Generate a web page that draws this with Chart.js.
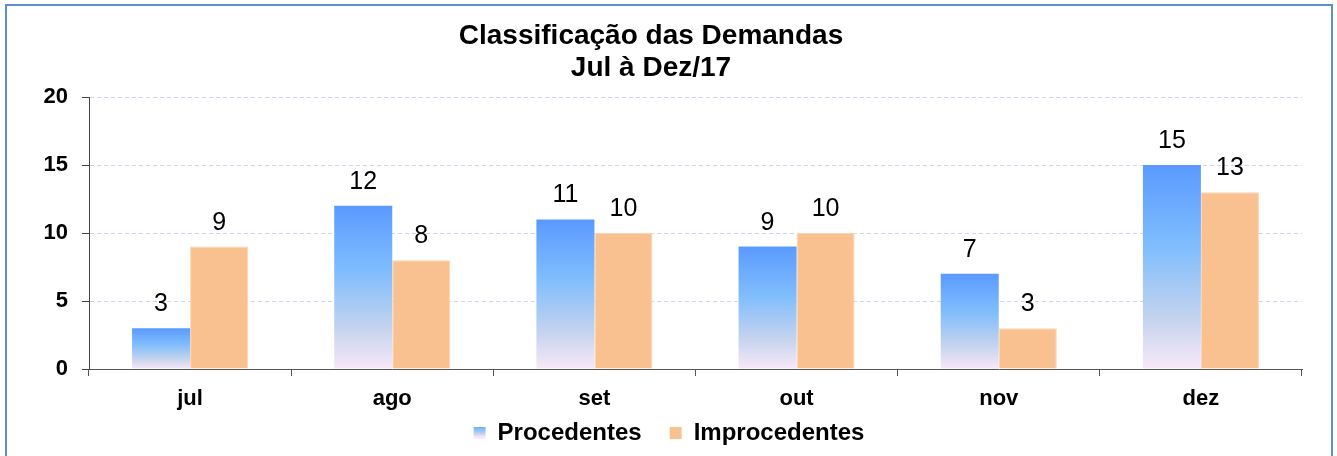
<!DOCTYPE html>
<html>
<head>
<meta charset="utf-8">
<script src="https://cdn.jsdelivr.net/npm/chart.js@4.4.1/dist/chart.umd.min.js"></script>
<style>
  body { margin: 0; background: #fff; }
  #wrap { position: relative; width: 1337px; height: 456px; }
  #frame { position: absolute; left: 5px; top: 4px; width: 1328px; height: 470px; border: 2px solid #5b8fd0; box-sizing: border-box; pointer-events: none; }
</style>
</head>
<body>
<div id="wrap">
  <canvas id="myChart" width="1337" height="456"></canvas>
  <div id="frame"></div>
</div>
<script>
const meses = ['jul', 'ago', 'set', 'out', 'nov', 'dez'];
const procedentes = [3, 12, 11, 9, 7, 15];
const improcedentes = [9, 8, 10, 10, 3, 13];
const yTicks = [0, 5, 10, 15, 20];

const FONT = "'Liberation Sans', Arial, sans-serif";

// blue gradient, from the top of each bar down to the axis
function blueFill(ctx, top, bottom) {
    const g = ctx.createLinearGradient(0, top, 0, bottom);
    g.addColorStop(0, '#5a9aff');
    g.addColorStop(0.4, '#80bdfd');
    g.addColorStop(0.75, '#c4d3ee');
    g.addColorStop(1, '#f8e8f8');
    return g;
}

function barGradient(context) {
    const chart = context.chart;
    const y = chart.scales.y;
    if (!y || context.raw === undefined) return '#6aa8ff';
    return blueFill(chart.ctx, y.getPixelForValue(context.raw), y.getPixelForValue(0));
}

// values written above each bar
const valueLabels = {
    id: 'valueLabels',
    afterDatasetsDraw(chart) {
        const ctx = chart.ctx;
        ctx.save();
        ctx.font = '25px ' + FONT;
        ctx.fillStyle = '#000';
        ctx.textAlign = 'center';
        ctx.textBaseline = 'alphabetic';
        chart.data.datasets.forEach(function (ds, i) {
            chart.getDatasetMeta(i).data.forEach(function (bar, j) {
                ctx.fillText(String(ds.data[j]), bar.x, bar.y - 17);
            });
        });
        ctx.restore();
    }
};

// pull the legend up closer to the month labels, centred on the canvas
const legendShift = {
    id: 'legendShift',
    afterLayout(chart) {
        const lg = chart.legend;
        lg.top -= 21;
        lg.bottom -= 21;
        lg.left += 18;
        lg.right += 18;
    }
};

const ctx = document.getElementById('myChart');

new Chart(ctx, {
    type: 'bar',
    data: {
        labels: meses,
        datasets: [{
            label: 'Procedentes',
            data: procedentes,
            backgroundColor: barGradient,
            borderWidth: 0
        }, {
            label: 'Improcedentes',
            data: improcedentes,
            backgroundColor: '#f9c090',
            borderColor: '#fcd3b0',
            borderWidth: 1
        }]
    },
    plugins: [valueLabels, legendShift],
    options: {
        responsive: false,
        animation: false,
        categoryPercentage: 0.574,
        barPercentage: 1,
        layout: { padding: { top: 0, right: 35, bottom: -20, left: 0 } },
        plugins: {
            title: {
                display: true,
                text: ['Classificação das Demandas', 'Jul à Dez/17'],
                color: '#000',
                font: { family: FONT, size: 28, weight: 'bold', lineHeight: 1.143 },
                padding: { top: 20, bottom: 13 }
            },
            legend: {
                position: 'bottom',
                labels: {
                    color: '#000',
                    font: { family: FONT, size: 24, weight: 'bold' },
                    boxWidth: 12,
                    boxHeight: 12,
                    padding: 28,
                    generateLabels: function (chart) {
                        return [{
                            text: 'Procedentes',
                            fillStyle: blueFill(chart.ctx, 424, 437),
                            strokeStyle: 'rgba(0,0,0,0)',
                            lineWidth: 0,
                            datasetIndex: 0
                        }, {
                            text: 'Improcedentes',
                            fillStyle: '#f9c090',
                            strokeStyle: 'rgba(0,0,0,0)',
                            lineWidth: 0,
                            datasetIndex: 1
                        }];
                    }
                }
            },
            tooltip: { enabled: false }
        },
        scales: {
            x: {
                afterFit: function (scale) { scale.height = 45; },
                grid: { offset: true, drawOnChartArea: false, tickLength: 7, tickColor: '#555' },
                border: { color: '#555', width: 1 },
                ticks: { color: '#000', padding: 10, font: { family: FONT, size: 22, weight: 'bold' } }
            },
            y: {
                min: 0,
                max: 20,
                afterFit: function (scale) { scale.width = 89; },
                afterBuildTicks: function (scale) { scale.ticks = yTicks.map(v => ({ value: v })); },
                grid: { color: '#ccd8f0', tickLength: 7, tickColor: '#444', tickBorderDash: [] },
                border: { color: '#444', width: 1, dash: [4, 3] },
                ticks: { color: '#000', padding: 14, font: { family: FONT, size: 22, weight: 'bold' } }
            }
        }
    }
});
</script>
</body>
</html>
